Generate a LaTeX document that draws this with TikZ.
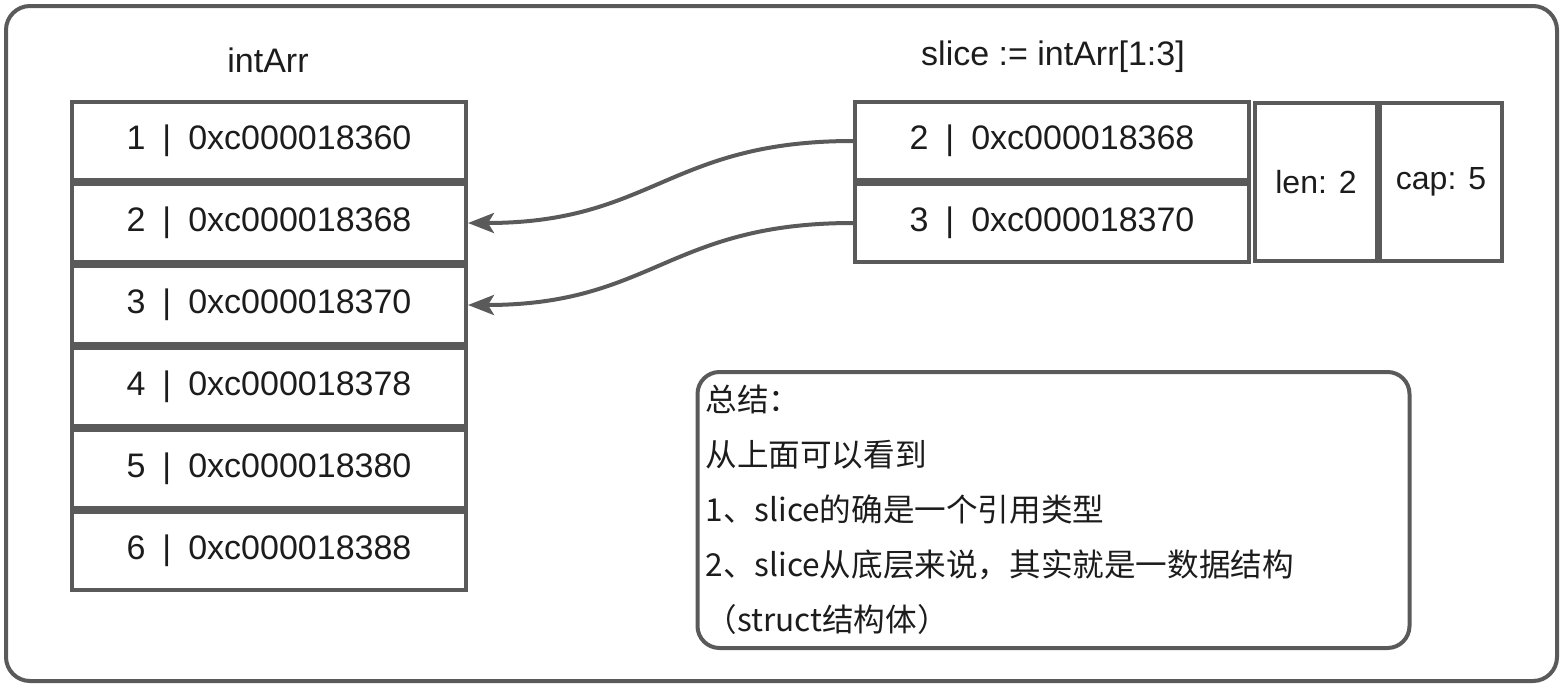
\documentclass[tikz,border=0pt]{standalone}
\usepackage{fontspec}
\setmainfont{Liberation Sans}
\newfontfamily\cjk{Noto Sans CJK SC}
\usetikzlibrary{arrows.meta}
\definecolor{linegray}{HTML}{5A5A5A}
\definecolor{inkblack}{HTML}{1C1C1C}

\begin{document}
\begin{tikzpicture}[
    x = 0.5pt,
    y = -0.5pt,
    >={Stealth[length=13pt, width=10pt, inset=3pt]},
    cell/.style = {draw=linegray, line width=2pt, minimum width=197pt,
    minimum height=39pt, inner sep=0pt, text=inkblack,
    font=\fontsize{17}{20}\selectfont},
    field/.style = {draw=linegray, line width=2pt, minimum width=61pt,
    minimum height=79pt, inner sep=0pt, text=inkblack,
    font=\fontsize{16}{19}\selectfont},
    title/.style = {inner sep=0pt, text=inkblack,
    font=\fontsize{17}{20}\selectfont},
    note/.style = {draw=linegray, line width=2pt, rounded corners=11pt,
    text width=348pt, inner xsep=4pt, minimum height=138pt, align=left,
    text=inkblack, font=\cjk\fontsize{15.8}{27.5}\selectfont},
    link/.style = {draw=linegray, line width=2pt, ->},
]

\useasboundingbox (0,0) rectangle (1564,686);
\draw [linegray, line width=2pt, rounded corners=12pt] (6,6) rectangle (1557,681);

\node[title] (arr_title) at (268,60){intArr};
\node[cell] (arr_1) at (269,141){1\enspace|\enspace 0xc000018360};
\node[cell] (arr_2) at (269,223){2\enspace|\enspace 0xc000018368};
\node[cell] (arr_3) at (269,305){3\enspace|\enspace 0xc000018370};
\node[cell] (arr_4) at (269,387){4\enspace|\enspace 0xc000018378};
\node[cell] (arr_5) at (269,469){5\enspace|\enspace 0xc000018380};
\node[cell] (arr_6) at (269,551){6\enspace|\enspace 0xc000018388};

\node[title] (slc_title) at (1053,57){slice := intArr[1:3]};
\node[cell] (slc_2) at (1052,141){2\enspace|\enspace 0xc000018368};
\node[cell] (slc_3) at (1052,223){3\enspace|\enspace 0xc000018370};
\node[field] (slc_len) at (1316,182){len: 2};
\node[field] (slc_cap) at (1441,182){cap: 5};

\draw [link] (slc_2.west) to[out=180, in=0, looseness=1.2] (arr_2.east);
\draw [link] (slc_3.west) to[out=180, in=0, looseness=1.2] (arr_3.east);

\node[note] (summary) at (1053.5,510){总结：\\
从上面可以看到\\
1、slice的确是一个引用类型\\
2、slice从底层来说，其实就是一数据结构\\
（struct结构体）};
\end{tikzpicture}
\end{document}
